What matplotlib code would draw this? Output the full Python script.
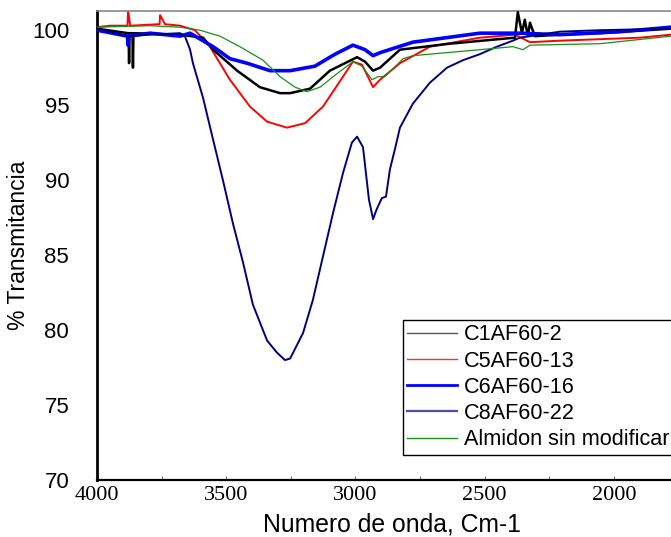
from __future__ import annotations

import matplotlib

matplotlib.use("Agg")
import matplotlib.pyplot as plt
from matplotlib import font_manager
from matplotlib.ticker import MultipleLocator


# wavenumber (cm-1) / transmittance (%)
C8_WN = [4000, 3880, 3795, 3679, 3660, 3640, 3629, 3590, 3551, 3513, 3474, 3435, 3397, 3342, 3304, 3273,
         3253, 3203, 3165, 3126, 3087, 3048, 3014, 2994, 2971, 2948, 2932, 2917, 2898, 2882, 2867, 2847,
         2828, 2778, 2712, 2646, 2584, 2519, 2453, 2391, 2364, 2209, 2054, 1780]
C8_T = [100.1, 99.6, 99.7, 99.8, 99.6, 98.7, 97.8, 95.5, 92.7, 90.0, 87.1, 84.5, 81.7, 79.3, 78.5, 78.0,
        78.1, 79.8, 82.0, 84.9, 87.8, 90.5, 92.5, 92.9, 92.2, 88.7, 87.4, 88.1, 88.8, 88.9, 90.7, 92.1,
        93.5, 95.1, 96.5, 97.5, 98.0, 98.4, 98.9, 99.3, 99.5, 99.9, 100.0, 100.1]

C1_WN = [4000, 3880, 3878, 3876, 3874, 3863, 3861, 3859, 3679, 3590, 3551, 3458, 3370, 3292, 3253, 3176,
         3099, 2994, 2963, 2932, 2905, 2828, 2635, 2383, 2372, 2356, 2345, 2333, 2325, 2306, 2209, 2054, 1780]
C1_T = [100.1, 99.8, 99.8, 97.8, 99.8, 99.8, 97.5, 99.8, 99.7, 99.5, 98.7, 97.3, 96.2, 95.8, 95.8, 96.1,
        97.3, 98.2, 97.9, 97.3, 97.5, 98.7, 99.1, 99.5, 101.2, 99.8, 100.7, 99.6, 100.5, 99.6, 99.7, 99.8, 100.1]

C5_WN = [4000, 3950, 3882, 3880, 3872, 3758, 3756, 3737, 3679, 3621, 3563, 3486, 3408, 3342, 3265, 3195,
         3126, 3060, 3010, 2975, 2932, 2905, 2828, 2712, 2519, 2383, 2325, 2209, 2054, 1900, 1780]
C5_T = [100.2, 100.3, 100.3, 101.4, 100.3, 100.4, 101.0, 100.4, 100.3, 100.0, 98.9, 96.7, 94.9, 93.9, 93.5, 93.8,
        94.9, 96.6, 97.9, 97.7, 96.2, 96.7, 97.8, 98.9, 99.5, 99.7, 99.2, 99.3, 99.4, 99.5, 99.7]

C6_WN = [4000, 3882, 3880, 3878, 3795, 3679, 3640, 3551, 3486, 3420, 3331, 3253, 3157, 3079, 3010, 2963,
         2932, 2905, 2778, 2519, 2364, 2209, 1977, 1780]
C6_T = [100.0, 99.6, 99.0, 99.6, 99.8, 99.6, 99.8, 98.9, 98.1, 97.8, 97.3, 97.3, 97.6, 98.4, 99.0, 98.7,
        98.3, 98.5, 99.2, 99.8, 99.8, 99.7, 99.9, 100.2]

ALM_WN = [4000, 3795, 3679, 3602, 3524, 3447, 3358, 3292, 3234, 3188, 3137, 3079, 3010, 2975, 2936, 2913,
          2886, 2816, 2778, 2519, 2391, 2352, 2325, 2054, 1780]
ALM_T = [100.2, 100.3, 100.2, 100.0, 99.6, 98.9, 98.0, 96.9, 96.2, 95.9, 96.2, 97.0, 97.9, 97.6, 96.7, 96.9,
         96.9, 98.1, 98.3, 98.7, 98.9, 98.7, 99.0, 99.1, 99.6]

LABELS = ["C1AF60-2", "C5AF60-13", "C6AF60-16", "C8AF60-22", "Almidon sin modificar"]
Y_TICKS = [70, 75, 80, 85, 90, 95, 100]
X_TICKS = [4000, 3500, 3000, 2500, 2000]

SANS = ["Liberation Sans", "DejaVu Sans"]


def serif_font(size: float) -> font_manager.FontProperties:
    # resolve the file directly so the Times-like face is used for the x numbers
    path = font_manager.findfont(font_manager.FontProperties(family=["Liberation Serif", "DejaVu Serif"]))
    return font_manager.FontProperties(fname=path, size=size)


def plot_spectra(out_path: str = "out.png") -> None:
    plt.rcParams["font.family"] = SANS
    fig = plt.figure(figsize=(6.71, 5.37), dpi=100)
    # axes run past the right edge of the canvas, like the cropped original
    ax = fig.add_axes([0.1446, 0.1061, 0.963, 0.874])

    ax.plot(C5_WN, C5_T, color="#ff0000", linewidth=1.4, label=LABELS[1], zorder=2)
    ax.plot(C1_WN, C1_T, color="#000000", linewidth=1.8, label=LABELS[0], zorder=3)
    ax.plot(C6_WN, C6_T, color="#0000ff", linewidth=2.6, label=LABELS[2], zorder=4)
    ax.plot(C8_WN, C8_T, color="#00007f", linewidth=1.4, label=LABELS[3], zorder=5)
    ax.plot(ALM_WN, ALM_T, color="#1a8f1a", linewidth=0.9, label=LABELS[4], zorder=6)

    ax.set_xlim(4000, 1500)
    ax.set_ylim(70, 101.3)
    ax.set_xticks(X_TICKS)
    ax.xaxis.set_minor_locator(MultipleLocator(250))
    ax.set_xticklabels([str(t) for t in X_TICKS], fontproperties=serif_font(16))
    ax.set_yticks(Y_TICKS)
    ax.set_yticklabels([str(t) for t in Y_TICKS], fontsize=16)
    ax.tick_params(axis="x", which="both", direction="in", length=3, width=0.6, color="#555555", pad=4)
    ax.tick_params(axis="y", length=0, pad=20)

    ax.spines["left"].set_linewidth(2.0)
    ax.spines["bottom"].set_linewidth(1.6)
    ax.spines["top"].set_linewidth(1.2)
    ax.spines["top"].set_color("#888888")
    ax.spines["right"].set_visible(False)

    ax.set_xlabel("Numero de onda, Cm-1", fontsize=17.8)
    ax.set_ylabel("% Transmitancia", fontsize=16.5)
    ax.xaxis.set_label_coords((392 - 97) / 646, -0.07)
    ax.yaxis.set_label_coords(-0.104, 0.5)

    handles, labels = ax.get_legend_handles_labels()
    order = [labels.index(name) for name in LABELS]
    leg = ax.legend(
        [handles[i] for i in order],
        [labels[i] for i in order],
        loc="upper left",
        bbox_to_anchor=((403 - 97) / 646, (480 - 320) / 469.5),
        prop={"size": 15.6},
        frameon=True,
        fancybox=False,
        edgecolor="black",
        framealpha=1.0,
        handlelength=2.3,
        handletextpad=0.3,
        labelspacing=0.24,
        borderpad=0.2,
        borderaxespad=0.0,
    )
    leg.get_frame().set_linewidth(1.0)
    legend_styles = [("#555555", 1.0), ("#ff3030", 1.0), ("#0000ff", 2.0), ("#5050a0", 1.6), ("#1a8f1a", 1.0)]
    for line, (col, lw) in zip(leg.get_lines(), legend_styles):
        line.set_color(col)
        line.set_linewidth(lw)

    fig.savefig(out_path, dpi=100)
    plt.close(fig)


if __name__ == "__main__":
    plot_spectra()
